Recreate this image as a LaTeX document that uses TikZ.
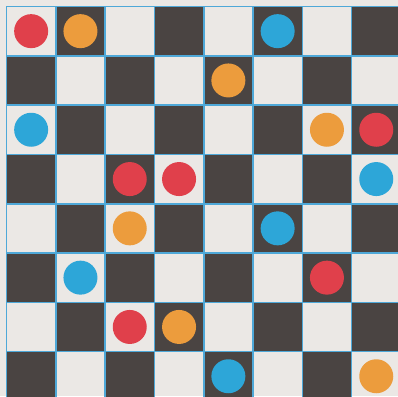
\documentclass[tikz,border=0pt]{standalone}
\definecolor{lightsq}{HTML}{EBE8E5}
\definecolor{darksq}{HTML}{4A4442}
\definecolor{gridblue}{HTML}{4EA8D8}
\definecolor{pred}{HTML}{E0404B}
\definecolor{porange}{HTML}{EC9C3D}
\definecolor{pblue}{HTML}{2DA6D8}
\begin{document}
\begin{tikzpicture}[x=1pt,y=-1pt]
\useasboundingbox (0,0) rectangle (398,396);
\clip (0,0) rectangle (398,396);
\fill[lightsq] (0,0) rectangle (398,396);
\def\cs{49.3}
\def\ox{6.5}
\def\oy{6.5}
\foreach \r in {0,...,7}{
  \foreach \c in {0,...,7}{
    \pgfmathtruncatemacro{\sqpar}{mod(\r+\c,2)}
    \ifnum\sqpar=1
      \fill[darksq] ({\ox+\c*\cs},{\oy+\r*\cs}) rectangle ++(\cs,\cs);
    \fi
  }
}
\foreach \i in {0,...,8}{
  \draw[gridblue, line width=1.6pt] ({\ox+\i*\cs},\oy) -- ({\ox+\i*\cs},{\oy+8*\cs});
  \draw[gridblue, line width=1.6pt] (\ox,{\oy+\i*\cs}) -- ({\ox+8*\cs},{\oy+\i*\cs});
}
\foreach \r/\c/\col in {
  0/0/pred, 0/1/porange, 0/5/pblue,
  1/4/porange,
  2/0/pblue, 2/6/porange, 2/7/pred,
  3/2/pred, 3/3/pred, 3/7/pblue,
  4/2/porange, 4/5/pblue,
  5/1/pblue, 5/6/pred,
  6/2/pred, 6/3/porange,
  7/4/pblue, 7/7/porange}{
  \fill[\col] ({\ox+(\c+0.5)*\cs},{\oy+(\r+0.5)*\cs}) circle (17);
}
\end{tikzpicture}
\end{document}
